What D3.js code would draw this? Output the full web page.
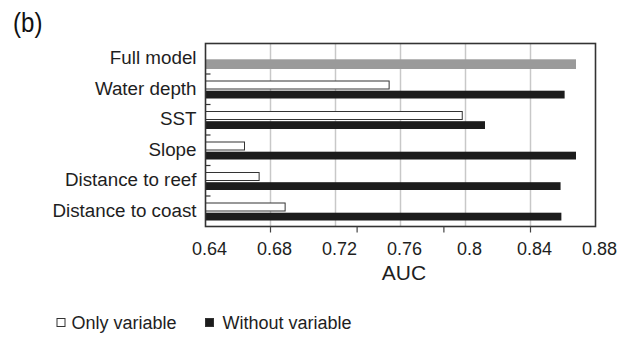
<!DOCTYPE html>
<html><head><meta charset="utf-8">
<script src="https://cdn.jsdelivr.net/npm/d3@7"></script>
<style>body{margin:0;background:#fff}svg{display:block;font-family:"Liberation Sans",Arial,sans-serif}</style>
</head><body>
<svg id="c" width="635" height="338"></svg>
<script>
const categories = ["Full model","Water depth","SST","Slope","Distance to reef","Distance to coast"];
const onlyVariable = [null, 0.753, 0.798, 0.664, 0.673, 0.689];
const withoutVariable = [0.868, 0.861, 0.812, 0.868, 0.8585, 0.859];
const xTickLabels = [0.64, 0.68, 0.72, 0.76, 0.8, 0.84, 0.88];
const gridValues = [0.68, 0.72, 0.76, 0.8, 0.84];
const bottomTickMarks = [0.68, 0.7333, 0.7867, 0.84];

const svg = d3.select("#c");
const L = 205.5, R = 595.5, T = 43.5, B = 226.5;
const x = d3.scaleLinear().domain([0.64, 0.88]).range([L, R]);
const y = d3.scaleBand().domain(categories).range([T, B]).padding(0);
const bw = y.bandwidth();
const ink = "#1e1e1e";

// grid
svg.append("g").selectAll("line").data(gridValues).join("line")
  .attr("x1", d => x(d)).attr("x2", d => x(d)).attr("y1", T).attr("y2", B)
  .attr("stroke", "#c8c8c8").attr("stroke-width", 1.5);

// bars
const rows = categories.map((c, i) => ({c, only: onlyVariable[i], without: withoutVariable[i], i}));
svg.append("g").selectAll("rect").data(rows.filter(d => d.only != null)).join("rect")
  .attr("x", x(0.64)).attr("y", d => y(d.c) + 7)
  .attr("width", d => x(d.only) - x(0.64)).attr("height", 8)
  .attr("fill", "#fff").attr("stroke", "#333").attr("stroke-width", 1);
svg.append("g").selectAll("rect").data(rows).join("rect")
  .attr("x", x(0.64)).attr("y", d => y(d.c) + (d.i === 0 ? 15.8 : 16.7))
  .attr("width", d => x(d.without) - x(0.64)).attr("height", d => d.i === 0 ? 9.7 : 7.8)
  .attr("fill", d => d.i === 0 ? "#9a9a9a" : "#1c1c1c");

// left small ticks at band boundaries
svg.append("g").selectAll("line").data(categories.slice(1)).join("line")
  .attr("x1", L).attr("x2", L + 5).attr("y1", d => y(d)).attr("y2", d => y(d))
  .attr("stroke", "#333").attr("stroke-width", 1.2);

// frame
svg.append("rect").attr("x", L).attr("y", T).attr("width", R - L).attr("height", B - T)
  .attr("fill", "none").attr("stroke", "#333").attr("stroke-width", 1.6);

// bottom tick marks
svg.append("g").selectAll("line").data(bottomTickMarks).join("line")
  .attr("x1", d => x(d)).attr("x2", d => x(d)).attr("y1", B).attr("y2", B + 6)
  .attr("stroke", "#444").attr("stroke-width", 1.2);

// tick labels
svg.append("g").selectAll("text").data(xTickLabels).join("text")
  .attr("x", d => x(d) + 4).attr("y", 255).attr("text-anchor", "middle")
  .attr("font-size", 18).attr("fill", ink).text(d => d);

svg.append("text").attr("x", 404).attr("y", 280).attr("text-anchor", "middle")
  .attr("font-size", 21).attr("fill", ink).text("AUC");

// category labels
svg.append("g").selectAll("text").data(categories).join("text")
  .attr("x", 196.5).attr("y", d => y(d) + bw / 2 - 1).attr("dy", "0.35em")
  .attr("text-anchor", "end").attr("font-size", 18.8).attr("fill", ink).text(d => d);

// panel label
svg.append("text").attr("transform", "translate(13,32) scale(0.86,1)")
  .attr("font-size", 28).attr("fill", "#111").text("(b)");

// legend
const legend = [{label: "Only variable", fill: "#fff", x: 57, tx: 71.5}, {label: "Without variable", fill: "#1c1c1c", x: 205.5, tx: 222.5}];
const lg = svg.append("g").selectAll("g").data(legend).join("g");
lg.append("rect").attr("x", d => d.x).attr("y", 318.5).attr("width", 8).attr("height", 8)
  .attr("fill", d => d.fill).attr("stroke", "#333").attr("stroke-width", 1);
lg.append("text").attr("x", d => d.tx).attr("y", 328.5).attr("font-size", 18).attr("fill", ink).text(d => d.label);
</script>
</body></html>
